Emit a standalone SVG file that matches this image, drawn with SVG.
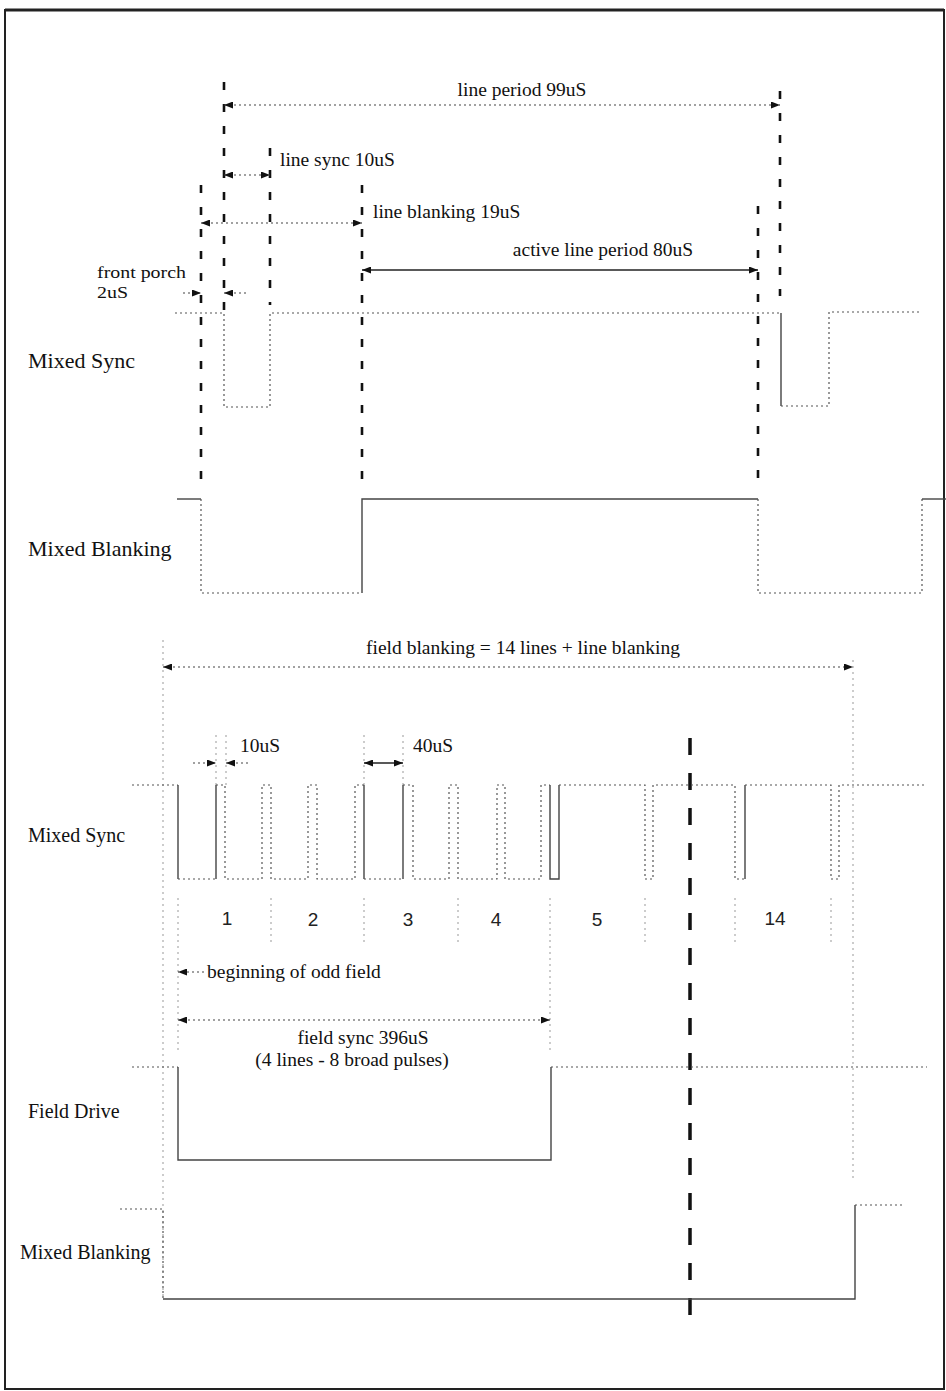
<svg xmlns="http://www.w3.org/2000/svg" width="946" height="1391" viewBox="0 0 946 1391">
<style>
.t{font-family:"Liberation Serif","Times New Roman",serif;font-size:19.5px;fill:#111}
.ts{font-family:"Liberation Serif","Times New Roman",serif;font-size:17.5px;fill:#111}
.lbl{font-family:"Liberation Serif","Times New Roman",serif;font-size:20px;fill:#111}
.lblL{font-family:"Liberation Serif","Times New Roman",serif;font-size:22px;fill:#111}
.num{font-family:"Liberation Sans",Arial,sans-serif;font-size:19px;fill:#222}
.dot{fill:none;stroke:#555;stroke-width:1.2;stroke-dasharray:2 3}
.ldot{fill:none;stroke:#999;stroke-width:1;stroke-dasharray:2 4}
.sol{fill:none;stroke:#444;stroke-width:1.4}
.dash{fill:none;stroke:#111;stroke-width:2.6;stroke-dasharray:8 14}
.bdash{fill:none;stroke:#111;stroke-width:3.5;stroke-dasharray:17 18}
.adot{fill:none;stroke:#444;stroke-width:1.2;stroke-dasharray:2 3}
.asol{fill:none;stroke:#222;stroke-width:1.4}
</style>
<defs>
<marker id="ah" viewBox="0 0 10 10" refX="10" refY="5" markerWidth="9" markerHeight="7" markerUnits="userSpaceOnUse" orient="auto-start-reverse" preserveAspectRatio="none">
<path d="M0,0 L10,5 L0,10 Z" fill="#111"/>
</marker>
</defs>
<rect x="5" y="10" width="939" height="1379" fill="#fff" stroke="#222" stroke-width="2"/>
<line x1="5" y1="10" x2="944" y2="10" stroke="#222" stroke-width="3"/>

<g id="guides">
<line class="dash" x1="224" y1="82" x2="224" y2="318"/>
<line class="dash" x1="270" y1="148" x2="270" y2="305"/>
<line class="dash" x1="201" y1="185" x2="201" y2="480"/>
<line class="dash" x1="362" y1="185" x2="362" y2="480"/>
<line class="dash" x1="758" y1="206" x2="758" y2="480"/>
<line class="dash" x1="780" y1="91" x2="780" y2="296"/>
<line class="bdash" x1="690" y1="738" x2="690" y2="1322"/>
<line class="ldot" x1="163" y1="640" x2="163" y2="1300"/>
<line class="ldot" x1="853" y1="660" x2="853" y2="1182"/>
<line class="ldot" x1="216" y1="735" x2="216" y2="785"/>
<line class="ldot" x1="226" y1="735" x2="226" y2="785"/>
<line class="ldot" x1="364" y1="735" x2="364" y2="785"/>
<line class="ldot" x1="403" y1="735" x2="403" y2="785"/>
<line class="ldot" x1="178" y1="898" x2="178" y2="1050"/>
<line class="ldot" x1="271" y1="898" x2="271" y2="945"/>
<line class="ldot" x1="364" y1="898" x2="364" y2="945"/>
<line class="ldot" x1="458" y1="898" x2="458" y2="945"/>
<line class="ldot" x1="550" y1="898" x2="550" y2="1050"/>
<line class="ldot" x1="645" y1="898" x2="645" y2="945"/>
<line class="ldot" x1="735" y1="898" x2="735" y2="945"/>
<line class="ldot" x1="831" y1="898" x2="831" y2="945"/>
</g>

<g id="connectors">
<line class="adot" x1="224" y1="105" x2="780" y2="105" marker-start="url(#ah)" marker-end="url(#ah)"/>
<line class="adot" x1="224" y1="175" x2="270" y2="175" marker-start="url(#ah)" marker-end="url(#ah)"/>
<line class="adot" x1="201" y1="223" x2="362" y2="223" marker-start="url(#ah)" marker-end="url(#ah)"/>
<line class="asol" x1="362" y1="270" x2="758" y2="270" marker-start="url(#ah)" marker-end="url(#ah)"/>
<line class="adot" x1="183" y1="293" x2="201" y2="293" marker-end="url(#ah)"/>
<line class="adot" x1="246" y1="293" x2="224" y2="293" marker-end="url(#ah)"/>
<line class="adot" x1="163" y1="667" x2="853" y2="667" marker-start="url(#ah)" marker-end="url(#ah)"/>
<line class="adot" x1="193" y1="763" x2="216" y2="763" marker-end="url(#ah)"/>
<line class="adot" x1="248" y1="763" x2="226" y2="763" marker-end="url(#ah)"/>
<line class="asol" x1="364" y1="763" x2="403" y2="763" marker-start="url(#ah)" marker-end="url(#ah)"/>
<line class="adot" x1="204" y1="972" x2="178" y2="972" marker-end="url(#ah)"/>
<line class="adot" x1="178" y1="1020" x2="550" y2="1020" marker-start="url(#ah)" marker-end="url(#ah)"/>
</g>

<g id="top-mixed-sync">
<text class="lblL" x="28" y="368">Mixed Sync</text>
<path class="dot" d="M175,313 H224 V407 H270 V313 H781"/>
<path class="sol" d="M781,313 V406"/>
<path class="dot" d="M781,406 H829 V312 H920"/>
</g>

<g id="top-mixed-blanking">
<text class="lblL" x="28" y="556">Mixed Blanking</text>
<path class="sol" d="M177,499 H201"/>
<path class="dot" d="M201,499 V593 H362"/>
<path class="sol" d="M362,593 V499 H758"/>
<path class="dot" d="M758,499 V593 H922 V499"/>
<path class="sol" d="M922,499 H946"/>
</g>

<g id="bottom-mixed-sync">
<text class="lbl" x="28" y="842">Mixed Sync</text>
<path class="dot" d="M132,785 H178"/>
<path class="sol" d="M178,785 V879"/>
<path class="dot" d="M178,879 H216"/>
<path class="sol" d="M216,879 V785"/>
<path class="dot" d="M216,785 H225 V879 H262 V785 H271 V879 H308 V785 H317 V879 H355 V785 H364"/>
<path class="sol" d="M364,785 V879"/>
<path class="dot" d="M364,879 H403"/>
<path class="sol" d="M403,879 V785"/>
<path class="dot" d="M403,785 H413 V879 H449 V785 H458 V879 H497 V785 H505 V879 H541 V785 H550"/>
<path class="sol" d="M550,785 V879 H559 V785"/>
<path class="dot" d="M559,785 H645 V879 H653 V785 H735 V879 H745"/>
<path class="sol" d="M745,879 V785"/>
<path class="dot" d="M745,785 H831 V879 H839 V785 H925"/>
<text class="num" x="227" y="925" text-anchor="middle">1</text>
<text class="num" x="313" y="926" text-anchor="middle">2</text>
<text class="num" x="408" y="926" text-anchor="middle">3</text>
<text class="num" x="496" y="926" text-anchor="middle">4</text>
<text class="num" x="597" y="926" text-anchor="middle">5</text>
<text class="num" x="775" y="925" text-anchor="middle">14</text>
</g>

<g id="field-drive">
<text class="lbl" x="28" y="1118">Field Drive</text>
<path class="dot" d="M132,1067 H178"/>
<path class="sol" d="M178,1067 V1160 H551 V1067"/>
<path class="dot" d="M551,1067 H927"/>
</g>

<g id="bottom-mixed-blanking">
<text class="lbl" x="20" y="1259">Mixed Blanking</text>
<path class="dot" d="M120,1209 H163 V1299"/>
<path class="sol" d="M163,1299 H855 V1205"/>
<path class="dot" d="M855,1205 H902"/>
</g>

<g id="labels">
<text class="t" x="522" y="96" text-anchor="middle">line period 99uS</text>
<text class="t" x="280" y="166">line sync 10uS</text>
<text class="t" x="373" y="218">line blanking 19uS</text>
<text class="t" x="603" y="256" text-anchor="middle">active line period 80uS</text>
<text class="ts" x="97" y="278" textLength="89" lengthAdjust="spacingAndGlyphs">front porch</text>
<text class="ts" x="97" y="298" textLength="31" lengthAdjust="spacingAndGlyphs">2uS</text>
<text class="t" x="523" y="654" text-anchor="middle">field blanking = 14 lines + line blanking</text>
<text class="t" x="240" y="752">10uS</text>
<text class="t" x="413" y="752">40uS</text>
<text class="t" x="207" y="978">beginning of odd field</text>
<text class="t" x="363" y="1044" text-anchor="middle">field sync 396uS</text>
<text class="t" x="352" y="1066" text-anchor="middle">(4 lines - 8 broad pulses)</text>
</g>
</svg>
